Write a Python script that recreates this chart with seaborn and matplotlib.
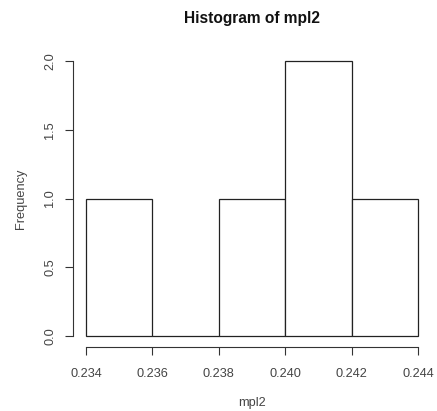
import matplotlib
matplotlib.use("Agg")
import matplotlib.pyplot as plt
import seaborn as sns
import numpy as np

mpl2 = [0.2350, 0.2390, 0.2405, 0.2415, 0.2430]
bin_edges = [0.234, 0.236, 0.238, 0.240, 0.242, 0.244]
xticks = [0.234, 0.236, 0.238, 0.240, 0.242, 0.244]
xtick_labels = ["0.234", "0.236", "0.238", "0.240", "0.242", "0.244"]
yticks = [0.0, 0.5, 1.0, 1.5, 2.0]
ytick_labels = ["0.0", "0.5", "1.0", "1.5", "2.0"]

sns.set_style("ticks")
plt.rcParams['font.family'] = ['Liberation Sans', 'DejaVu Sans']

fig = plt.figure(figsize=(4.37, 4.11), dpi=100)
ax = fig.add_axes([72.7/437, 64/411, (431.3-72.7)/437, (347-50)/411])

sns.histplot(x=mpl2, bins=bin_edges, ax=ax, stat="count",
             color="white", edgecolor="#222222", linewidth=0.9, alpha=1)

ax.set_xlim(0.2336, 0.2444)
ax.set_ylim(-0.08, 2.08)
ax.set_xticks(xticks)
ax.set_xticklabels(xtick_labels)
ax.set_yticks(yticks)
ax.set_yticklabels(ytick_labels, rotation=90, va="center")

for s in ["top", "right"]:
    ax.spines[s].set_visible(False)
ax.spines["left"].set_bounds(0, 2)
ax.spines["bottom"].set_bounds(0.234, 0.244)
for s in ["left", "bottom"]:
    ax.spines[s].set_color("#333333")
    ax.spines[s].set_linewidth(0.8)

ax.tick_params(axis="both", direction="out", length=6, width=0.8,
               color="#333333", labelsize=9.2, labelcolor="#444444")
ax.tick_params(axis="x", pad=9)
ax.tick_params(axis="y", pad=6)

ax.set_xlabel("mpl2", fontsize=9.2, color="#444444", labelpad=12)
ax.set_ylabel("Frequency", fontsize=9.2, color="#444444", labelpad=12)
fig.text(252/437, 1 - 19/411, "Histogram of mpl2", ha="center", va="center",
         fontsize=11.2, fontweight="bold", color="#111111")
ax.grid(False)

fig.savefig("out.png", dpi=100, facecolor="white")
